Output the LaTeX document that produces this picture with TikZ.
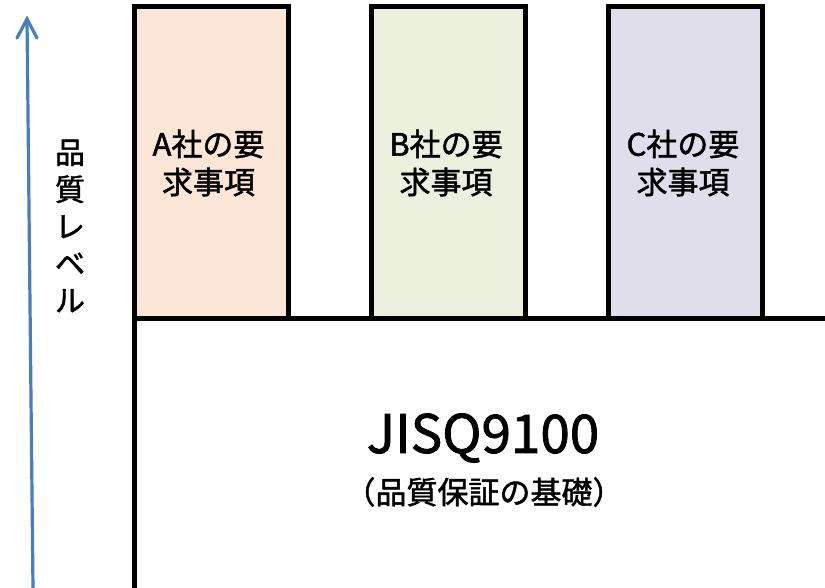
\documentclass[tikz,border=0pt]{standalone}
\usepackage{fontspec}
\setmainfont{Noto Sans CJK JP}[FakeBold=1.5]
\definecolor{fillA}{HTML}{FCE6D7}
\definecolor{fillB}{HTML}{EBF0DF}
\definecolor{fillC}{HTML}{E1DEEC}
\definecolor{arrowblue}{HTML}{4A7EBB}
\begin{document}
\begin{tikzpicture}[x=1pt,y=-1pt,
  reqbox/.style={draw=black,line width=5pt,minimum width=154pt,minimum height=311pt,inner sep=0pt},
  reqtext/.style={font=\fontsize{31}{38}\selectfont,align=center},
  base/.style={draw=black,line width=5pt},
  axisline/.style={arrowblue,line width=3.2pt,line cap=round,line join=miter},
  axislabel/.style={font=\fontsize{30}{37}\selectfont,align=center}]
\useasboundingbox (0,0) rectangle (825,588);
% base box
\node[base,minimum width=710pt,minimum height=275pt,inner sep=0pt,anchor=north west] (base) at (131.5,315.5) {};
\node[font=\fontsize{53}{58}\selectfont] (jis) at (483,438) {JISQ9100};
\node[font=\fontsize{31}{34}\selectfont] (jissub) at (484,492) {（品質保証の基礎）};
% requirement boxes
\node[reqbox,fill=fillA,anchor=north west] (A) at (131.5,4.5) {};
\node[reqbox,fill=fillB,anchor=north west] (B) at (369,4.5) {};
\node[reqbox,fill=fillC,anchor=north west] (C) at (606,4.5) {};
\node[reqtext] (At) at (208.5,163) {A社の要\\求事項};
\node[reqtext] (Bt) at (446,163) {B社の要\\求事項};
\node[reqtext] (Ct) at (683,163) {C社の要\\求事項};
% axis
\coordinate (ax0) at (33,588);
\coordinate (ax1) at (27,19);
\coordinate (wl) at (17,38);
\coordinate (wr) at (37,38);
\draw[axisline] (ax0) -- (ax1);
\draw[axisline] (wl) -- (ax1) -- (wr);
\node[axislabel] (lbl) at (70,226) {品\\質\\レ\\ベ\\ル};
\end{tikzpicture}
\end{document}
